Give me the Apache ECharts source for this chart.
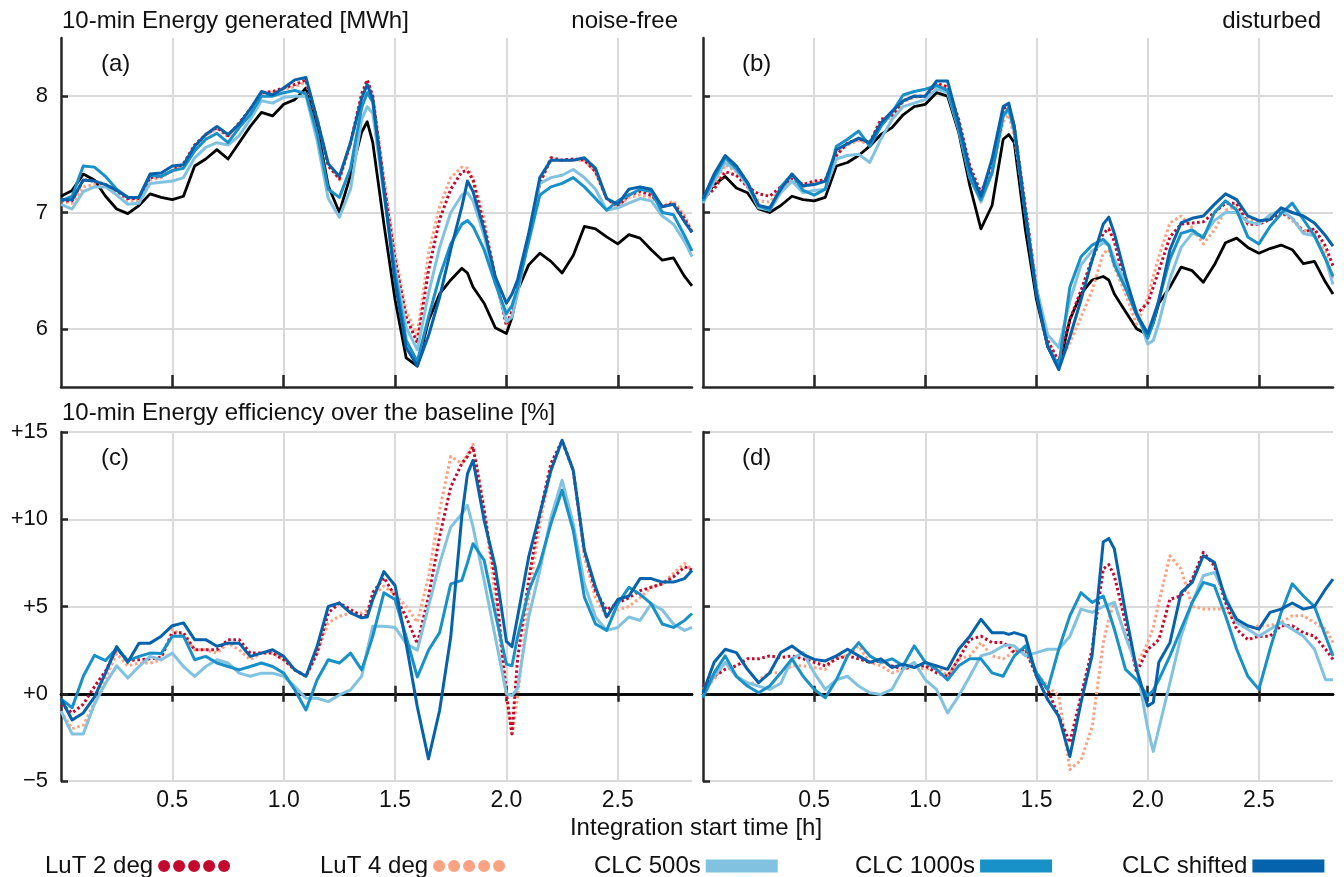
<!DOCTYPE html>
<html>
<head>
<meta charset="utf-8">
<script src="https://cdn.jsdelivr.net/npm/echarts@6/dist/echarts.min.js"></script>
<style>
html,body{margin:0;padding:0;background:#fff;}
#chart{width:1344px;height:877px;}
</style>
</head>
<body>
<div id="chart"></div>
<script>
// Integration start time [h]
const X = [0,0.05,0.1,0.15,0.2,0.25,0.3,0.35,0.4,0.45,0.5,0.55,0.6,0.65,0.7,0.75,0.8,0.85,0.9,0.95,
  1.0,1.05,1.1,1.15,1.2,1.25,1.3,1.35,1.375,1.4,1.45,1.5,1.55,1.6,1.65,1.7,1.75,1.8,1.825,1.85,
  1.9,1.95,2.0,2.025,2.05,2.1,2.15,2.2,2.25,2.3,2.35,2.4,2.45,2.5,2.55,2.6,2.65,2.7,2.75,2.8,2.8333];

const xTickValues = [0.5, 1.0, 1.5, 2.0, 2.5];
const yTickValuesEnergy = [6, 7, 8];

// (a) 10-min energy generated, noise-free [MWh]
const aBaseline = [7.14,7.19,7.33,7.28,7.14,7.03,6.99,7.06,7.16,7.13,
  7.11,7.14,7.40,7.46,7.54,7.46,7.60,7.74,7.86,7.83,
  7.93,7.97,8.07,7.74,7.23,7.00,7.32,7.69,7.78,7.60,
  6.90,6.25,5.75,5.68,6.07,6.30,6.42,6.52,6.48,6.36,
  6.22,6.01,5.96,6.10,6.33,6.55,6.65,6.58,6.48,6.63,
  6.88,6.86,6.79,6.73,6.81,6.78,6.68,6.59,6.61,6.45,6.37];
const aLuT2 = [7.10,7.10,7.28,7.27,7.24,7.19,7.12,7.12,7.30,7.31,
  7.36,7.42,7.58,7.67,7.73,7.66,7.77,7.89,8.03,8.04,
  8.07,8.10,8.14,7.80,7.40,7.29,7.60,8.02,8.14,8.00,
  7.25,6.60,6.10,5.88,6.50,6.94,7.20,7.35,7.36,7.28,
  6.88,6.45,6.03,6.15,6.36,6.78,7.25,7.47,7.45,7.46,
  7.45,7.35,7.12,7.05,7.15,7.18,7.15,7.05,7.08,6.95,6.83];
const aLuT4 = [7.10,7.08,7.22,7.24,7.22,7.17,7.10,7.10,7.28,7.30,
  7.36,7.40,7.56,7.66,7.72,7.65,7.76,7.88,8.02,8.03,
  8.06,8.08,8.12,7.80,7.42,7.28,7.58,8.00,8.12,8.00,
  7.30,6.65,6.15,5.95,6.65,7.05,7.30,7.39,7.38,7.30,
  6.95,6.45,6.03,6.15,6.35,6.80,7.25,7.45,7.45,7.45,
  7.45,7.35,7.12,7.05,7.13,7.15,7.13,7.05,7.10,6.97,6.84];
const aCLC500 = [7.07,7.03,7.18,7.22,7.22,7.15,7.07,7.08,7.25,7.26,
  7.27,7.30,7.47,7.56,7.60,7.58,7.66,7.80,7.96,7.94,
  7.99,8.00,8.00,7.62,7.12,6.96,7.20,7.80,7.91,7.85,
  7.15,6.53,6.01,5.82,6.30,6.70,7.00,7.15,7.17,7.10,
  6.80,6.42,6.06,6.10,6.30,6.78,7.25,7.30,7.32,7.37,
  7.30,7.20,7.02,7.04,7.08,7.12,7.10,6.97,6.90,6.75,6.62];
const aCLC1000 = [7.10,7.14,7.40,7.39,7.31,7.20,7.13,7.13,7.32,7.31,
  7.36,7.38,7.53,7.63,7.68,7.60,7.73,7.84,8.00,8.00,
  8.03,8.05,8.02,7.68,7.20,7.13,7.38,7.90,8.03,7.95,
  7.18,6.48,5.90,5.72,6.10,6.45,6.73,6.90,6.93,6.88,
  6.68,6.39,6.13,6.20,6.35,6.75,7.15,7.22,7.25,7.30,
  7.22,7.12,7.02,7.10,7.15,7.20,7.18,7.00,6.98,6.80,6.67];
const aShifted = [7.11,7.11,7.28,7.27,7.24,7.19,7.13,7.13,7.33,7.34,
  7.40,7.41,7.57,7.67,7.74,7.67,7.76,7.89,8.04,8.01,
  8.07,8.14,8.16,7.80,7.42,7.31,7.60,7.98,8.10,7.97,
  7.20,6.40,5.84,5.68,5.94,6.27,6.68,7.05,7.27,7.18,
  6.85,6.45,6.22,6.30,6.42,6.82,7.30,7.45,7.45,7.45,
  7.47,7.38,7.12,7.07,7.20,7.22,7.20,7.05,7.07,6.92,6.83];

// (b) 10-min energy generated, disturbed [MWh]
const bBaseline = [7.11,7.24,7.31,7.21,7.17,7.03,7.00,7.06,7.14,7.11,
  7.10,7.13,7.40,7.43,7.49,7.57,7.67,7.73,7.84,7.91,
  7.93,8.03,8.00,7.69,7.23,6.86,7.06,7.63,7.67,7.60,
  6.85,6.25,5.85,5.66,6.08,6.30,6.42,6.45,6.42,6.30,
  6.15,6.00,5.95,6.05,6.22,6.36,6.53,6.50,6.40,6.55,
  6.74,6.78,6.70,6.65,6.69,6.72,6.68,6.56,6.58,6.40,6.30];
const bLuT2 = [7.12,7.20,7.35,7.32,7.22,7.16,7.14,7.22,7.29,7.24,
  7.27,7.28,7.49,7.60,7.63,7.60,7.80,7.83,7.96,8.00,
  8.00,8.11,8.08,7.80,7.40,7.17,7.40,7.89,7.92,7.74,
  7.05,6.35,5.90,5.72,6.08,6.33,6.60,6.82,6.86,6.75,
  6.36,6.13,6.22,6.36,6.50,6.79,6.90,6.91,6.92,7.00,
  7.08,7.08,6.90,6.90,6.94,7.00,6.95,6.83,6.86,6.71,6.54];
const bLuT4 = [7.12,7.22,7.41,7.35,7.22,7.10,7.09,7.20,7.28,7.22,
  7.25,7.27,7.50,7.58,7.62,7.58,7.78,7.82,7.95,7.99,
  8.00,8.10,8.06,7.78,7.38,7.09,7.35,7.78,7.84,7.65,
  7.02,6.35,5.90,5.70,5.88,6.10,6.33,6.65,6.68,6.53,
  6.30,6.04,6.27,6.45,6.62,6.91,6.97,6.87,6.73,6.85,
  7.02,7.05,6.95,6.91,6.96,7.00,6.93,6.85,6.82,6.65,6.42];
const bCLC500 = [7.08,7.27,7.43,7.36,7.23,7.04,7.02,7.17,7.27,7.17,
  7.19,7.20,7.46,7.49,7.50,7.43,7.63,7.80,7.91,7.94,
  7.97,8.06,8.03,7.71,7.30,7.09,7.34,7.83,7.87,7.72,
  7.00,6.35,5.95,5.84,6.24,6.55,6.67,6.74,6.72,6.60,
  6.40,6.15,5.87,5.90,6.05,6.43,6.70,6.82,6.80,6.93,
  7.00,7.00,6.92,6.90,6.98,7.02,6.95,6.82,6.80,6.60,6.38];
const bCLC1000 = [7.10,7.30,7.47,7.38,7.25,7.06,7.02,7.22,7.33,7.19,
  7.15,7.20,7.57,7.63,7.70,7.57,7.74,7.86,8.01,8.04,
  8.06,8.09,8.05,7.72,7.30,7.11,7.34,7.83,7.90,7.70,
  6.98,6.30,5.85,5.68,6.36,6.62,6.72,6.77,6.72,6.55,
  6.35,6.12,5.92,6.05,6.25,6.60,6.82,6.85,6.78,7.00,
  7.10,7.02,6.79,6.73,6.88,6.99,7.08,6.94,6.80,6.60,6.45];
const bShifted = [7.12,7.33,7.49,7.40,7.26,7.06,7.04,7.20,7.33,7.23,
  7.24,7.27,7.54,7.59,7.64,7.60,7.77,7.87,7.96,8.00,
  8.00,8.13,8.13,7.77,7.37,7.14,7.46,7.91,7.94,7.74,
  7.00,6.30,5.85,5.65,5.93,6.25,6.59,6.90,6.96,6.82,
  6.45,6.13,5.96,6.10,6.24,6.68,6.91,6.95,6.97,7.07,
  7.16,7.11,6.97,6.93,6.94,7.04,7.00,6.97,6.91,6.80,6.71];

// (c) efficiency over the baseline, noise-free [%]
const cLuT2 = [-0.6,-1.1,-0.6,0.4,1.3,2.6,1.9,1.95,2.0,2.1,
  3.48,3.5,2.52,2.52,2.52,3.1,3.1,2.33,2.33,2.33,
  1.95,1.37,1.0,2.33,4.63,5.2,4.83,4.44,4.5,5.8,
  6.65,5.6,4.4,2.87,5.54,9.0,11.85,13.2,13.6,14.15,
  10.5,6.5,0.0,-2.3,2.0,6.5,10.3,13.2,14.5,12.8,
  8.2,5.9,4.8,5.2,5.5,5.9,6.1,6.3,6.7,7.27,7.1];
const cLuT4 = [-1.0,-2.0,-1.8,-0.5,0.9,2.3,1.6,1.76,1.76,1.95,
  3.68,3.3,2.52,2.52,2.33,2.9,2.52,1.95,2.33,2.33,
  1.95,1.37,1.0,2.33,4.06,4.44,4.63,4.63,4.8,5.6,
  6.17,5.7,5.0,4.1,6.7,10.5,13.6,13.2,13.7,14.3,
  10.7,5.5,-0.2,-2.4,-0.2,5.5,9.75,12.8,14.5,12.8,
  7.84,5.5,4.4,4.8,5.0,5.5,6.1,6.3,6.9,7.46,7.1];
const cCLC500 = [-1.0,-2.3,-2.3,-0.6,0.6,1.6,0.9,1.56,2.14,1.95,
  2.33,1.56,0.99,1.56,1.95,1.76,1.18,1.0,1.18,1.18,
  1.0,0.41,-0.26,-0.26,-0.45,-0.07,0.22,1.0,2.5,3.87,
  3.87,3.8,2.87,2.5,5.0,7.46,9.56,10.3,10.8,9.56,
  6.5,3.25,0.0,-0.1,0.3,4.4,7.07,10.1,12.24,9.75,
  6.3,4.4,3.63,3.8,4.4,4.2,5.16,4.8,4.0,3.63,3.8];
const cCLC1000 = [-0.3,-0.8,1.0,2.2,1.9,2.6,1.9,2.14,2.33,2.3,
  3.3,3.3,1.95,2.14,1.76,1.56,1.37,1.56,1.76,1.56,
  1.18,0.22,-0.93,0.8,1.95,1.76,2.33,1.37,2.3,3.3,
  5.79,5.4,3.25,0.96,2.49,3.5,6.3,6.5,7.5,8.6,
  7.65,4.6,1.7,1.6,3.25,5.9,7.46,9.75,11.66,9.37,
  5.54,4.0,3.63,5.16,6.1,5.7,5.16,4.0,3.8,4.2,4.6];
const cShifted = [-0.3,-1.5,-1.1,-0.2,1.2,2.7,1.8,2.9,2.9,3.3,
  3.9,4.06,3.1,3.1,2.72,2.9,2.9,2.14,2.33,2.52,
  2.14,1.37,1.0,2.72,5.0,5.2,4.63,4.35,4.4,5.4,
  7.0,6.2,2.87,-0.76,-3.73,-0.96,3.25,10.2,12.6,13.38,
  9.94,7.27,3.0,2.7,4.4,7.84,10.32,12.8,14.53,12.8,
  8.22,6.12,4.4,5.4,5.6,6.6,6.6,6.4,6.4,6.6,7.07];

// (d) efficiency over the baseline, disturbed [%]
const dLuT2 = [0.44,1.0,1.4,1.6,2.0,2.0,2.17,2.07,2.17,2.0,
  1.8,1.6,2.0,2.17,2.0,1.8,1.88,1.6,1.4,1.6,
  1.6,1.2,1.0,2.0,3.1,3.3,2.93,2.93,2.7,2.36,
  2.55,1.0,0.25,-1.3,-2.8,-0.13,2.55,7.15,7.4,6.76,
  4.08,1.2,2.55,2.8,3.1,5.42,5.6,6.57,8.1,7.34,
  5.23,3.7,3.1,3.3,3.3,3.9,3.9,3.5,3.3,2.55,1.97];
const dLuT4 = [0.25,0.8,1.8,1.0,0.44,0.8,1.2,1.2,1.6,1.6,
  1.5,1.4,2.17,2.17,2.74,1.8,1.6,1.2,1.4,1.6,
  1.4,1.6,1.0,2.0,2.17,2.93,2.17,2.0,2.2,2.55,
  2.36,1.2,0.44,-0.13,-4.35,-3.8,-1.9,2.9,4.3,5.23,
  3.3,1.6,2.93,3.8,5.23,7.9,7.15,5.0,4.85,4.85,
  4.85,4.08,3.7,3.9,3.9,4.08,4.47,4.47,4.08,3.7,2.93];
const dCLC500 = [-0.13,1.0,1.8,1.0,0.63,0.44,0.25,0.6,2.0,2.36,
  1.2,0.25,0.8,1.0,0.44,0.06,-0.04,0.25,1.4,1.8,
  0.8,0.25,-1.1,-0.13,1.0,2.17,2.36,2.74,2.8,2.74,
  2.17,2.36,2.55,2.55,3.3,4.85,4.66,5.0,5.1,5.23,
  3.3,1.6,-2.0,-3.3,-2.0,0.63,3.3,5.23,6.76,6.95,
  5.6,4.08,3.7,3.3,3.7,4.08,3.7,3.3,2.55,0.8,0.8];
const dCLC1000 = [-0.23,1.2,2.17,1.0,0.44,0.06,0.44,1.2,2.0,1.0,
  0.25,-0.23,0.8,2.17,2.93,2.17,1.8,2.0,1.6,2.74,
  1.8,1.4,0.8,1.6,2.0,2.0,1.2,1.0,1.6,2.17,
  2.74,1.2,0.25,2.55,4.47,5.8,5.23,5.6,4.7,3.7,
  1.4,0.8,-0.13,0.2,0.8,2.17,3.7,5.23,6.38,6.19,
  4.47,2.55,1.0,0.25,2.55,4.66,6.3,5.6,5.0,3.3,2.17];
const dShifted = [0.06,1.8,2.55,2.36,1.4,0.63,1.2,2.36,2.74,2.26,
  1.97,1.88,2.17,2.55,2.17,1.8,2.0,1.5,1.7,1.5,
  1.8,1.6,1.4,2.55,3.3,4.27,3.5,3.5,3.4,3.5,
  3.3,1.0,-0.33,-1.3,-3.6,-0.5,2.2,8.7,8.9,8.3,
  4.66,1.4,-0.7,-0.5,1.8,2.93,5.8,6.38,7.91,7.53,
  5.42,4.27,3.9,3.7,4.66,4.85,5.2,4.85,5.0,6.0,6.57];

const seriesNames = ['LuT 2 deg', 'LuT 4 deg', 'CLC 500s', 'CLC 1000s', 'CLC shifted'];
const COLORS = {
  base: '#000000',
  'LuT 2 deg': '#c3092e',
  'LuT 4 deg': '#fba283',
  'CLC 500s': '#80c2e0',
  'CLC 1000s': '#1891c9',
  'CLC shifted': '#0562ac'
};
const FONT = 'Liberation Sans, Arial, sans-serif';
const AXIS_COLOR = '#262626';
const GRID_COLOR = '#dadada';

const chart = echarts.init(document.getElementById('chart'), null, {renderer: 'canvas'});

function pairs(ys) { return X.map((x, i) => [x, ys[i]]); }

function lineSeries(name, ys, xi, yi) {
  const dotted = name.indexOf('LuT') === 0;
  const isBase = name === 'baseline';
  return {
    type: 'line', name: name, xAxisIndex: xi, yAxisIndex: yi,
    data: pairs(ys), showSymbol: false, symbol: 'none', animation: false, silent: true,
    color: isBase ? COLORS.base : COLORS[name],
    lineStyle: {
      color: isBase ? COLORS.base : COLORS[name],
      width: isBase ? 2.8 : 3,
      type: dotted ? [2.6, 2.6] : 'solid',
      cap: 'butt', join: 'round'
    }
  };
}

function panelSeries(set, xi, yi) {
  const out = [];
  if (set.base) out.push(lineSeries('baseline', set.base, xi, yi));
  out.push(lineSeries('LuT 4 deg', set.lut4, xi, yi));
  out.push(lineSeries('LuT 2 deg', set.lut2, xi, yi));
  out.push(lineSeries('CLC 500s', set.c500, xi, yi));
  out.push(lineSeries('CLC 1000s', set.c1000, xi, yi));
  out.push(lineSeries('CLC shifted', set.shift, xi, yi));
  return out;
}

const grids = [
  {left: 61, top: 38, width: 631, height: 349},
  {left: 703, top: 38, width: 630, height: 349},
  {left: 61, top: 432, width: 631, height: 349},
  {left: 703, top: 432, width: 630, height: 349}
];

function xAxisTop(gi) {
  return {
    type: 'value', gridIndex: gi, min: 0, max: 2.8333, position: 'bottom',
    axisLine: {show: true, onZero: false, lineStyle: {color: AXIS_COLOR, width: 2.5}},
    axisTick: {show: true, inside: true, length: 12, customValues: xTickValues, lineStyle: {color: AXIS_COLOR, width: 2.5}},
    axisLabel: {show: false, customValues: xTickValues},
    splitLine: {show: true, lineStyle: {color: GRID_COLOR, width: 2}}
  };
}
function xAxisBottomLabels(gi) {
  return {
    type: 'value', gridIndex: gi, min: 0, max: 2.8333, position: 'bottom',
    axisLine: {show: false, onZero: false},
    axisTick: {show: false, customValues: xTickValues},
    axisLabel: {show: true, customValues: xTickValues, margin: 8, color: '#111', fontSize: 23, fontFamily: FONT,
      formatter: v => v.toFixed(1)},
    splitLine: {show: true, lineStyle: {color: GRID_COLOR, width: 2}}
  };
}
function xAxisZero(gi, yi, inside) {
  return {
    type: 'value', gridIndex: gi, min: 0, max: 2.8333, position: 'bottom',
    axisLine: {show: true, onZero: true, onZeroAxisIndex: yi, lineStyle: {color: '#000', width: 2.5}},
    axisTick: {show: true, inside: inside, length: 8, customValues: xTickValues, lineStyle: {color: AXIS_COLOR, width: 2.5}},
    axisLabel: {show: false},
    splitLine: {show: false}
  };
}
function yAxisEnergy(gi, labels) {
  return {
    type: 'value', gridIndex: gi, min: 5.5, max: 8.5,
    axisLine: {show: true, onZero: false, lineStyle: {color: AXIS_COLOR, width: 2.5}},
    axisTick: {show: true, inside: true, length: 7, customValues: yTickValuesEnergy, lineStyle: {color: AXIS_COLOR, width: 2.5}},
    axisLabel: {show: labels, customValues: yTickValuesEnergy, margin: 13, color: '#111', fontSize: 22, fontFamily: FONT},
    splitLine: {show: true, lineStyle: {color: GRID_COLOR, width: 2}}
  };
}
function yAxisEff(gi, labels) {
  return {
    type: 'value', gridIndex: gi, min: -5, max: 15, interval: 5,
    axisLine: {show: true, onZero: false, lineStyle: {color: AXIS_COLOR, width: 2.5}},
    axisTick: {show: true, inside: true, length: 7, lineStyle: {color: AXIS_COLOR, width: 2.5}},
    axisLabel: {show: labels, margin: 13, color: '#111', fontSize: 22, fontFamily: FONT,
      formatter: v => v > 0 ? '+' + v : (v < 0 ? '\u2212' + Math.abs(v) : '+0')},
    splitLine: {show: true, lineStyle: {color: GRID_COLOR, width: 2}}
  };
}

const dotsIcon = 'path://M0,6a6,6 0 1,0 12,0a6,6 0 1,0 -12,0M15,6a6,6 0 1,0 12,0a6,6 0 1,0 -12,0M30,6a6,6 0 1,0 12,0a6,6 0 1,0 -12,0M45,6a6,6 0 1,0 12,0a6,6 0 1,0 -12,0M60,6a6,6 0 1,0 12,0a6,6 0 1,0 -12,0';
const legendLefts = [40, 315, 589, 850, 1117];
const legends = seriesNames.map((n, i) => ({
  left: legendLefts[i], top: 849, orient: 'horizontal', align: 'right',
  itemWidth: 72, itemHeight: 13, selectedMode: false,
  textStyle: {fontSize: 24, fontFamily: FONT, color: '#111'},
  data: [{name: n, icon: n.indexOf('LuT') === 0 ? dotsIcon : 'rect',
    itemStyle: {color: COLORS[n], borderWidth: 0}}]
}));

function txt(t, x, y, align, size) {
  return {type: 'text', x: x, y: y, silent: true,
    style: {text: t, fill: '#111', font: (size || 24) + 'px ' + FONT, align: align || 'left', verticalAlign: 'middle'}};
}

const option = {
  backgroundColor: '#fff',
  animation: false,
  grid: grids,
  xAxis: [xAxisTop(0), xAxisTop(1), xAxisBottomLabels(2), xAxisBottomLabels(3),
    xAxisZero(2, 2, true), xAxisZero(2, 2, false), xAxisZero(3, 3, true), xAxisZero(3, 3, false)],
  yAxis: [yAxisEnergy(0, true), yAxisEnergy(1, false), yAxisEff(2, true), yAxisEff(3, false)],
  legend: legends,
  series: [].concat(
    panelSeries({base: aBaseline, lut2: aLuT2, lut4: aLuT4, c500: aCLC500, c1000: aCLC1000, shift: aShifted}, 0, 0),
    panelSeries({base: bBaseline, lut2: bLuT2, lut4: bLuT4, c500: bCLC500, c1000: bCLC1000, shift: bShifted}, 1, 1),
    panelSeries({lut2: cLuT2, lut4: cLuT4, c500: cCLC500, c1000: cCLC1000, shift: cShifted}, 2, 2),
    panelSeries({lut2: dLuT2, lut4: dLuT4, c500: dCLC500, c1000: dCLC1000, shift: dShifted}, 3, 3)
  ),
  graphic: [
    txt('10-min Energy generated [MWh]', 62, 21),
    txt('noise-free', 678, 21, 'right'),
    txt('disturbed', 1321, 21, 'right'),
    txt('(a)', 101, 64),
    txt('(b)', 742, 64),
    txt('10-min Energy efficiency over the baseline [%]', 62, 413),
    txt('(c)', 101, 458),
    txt('(d)', 742, 458),
    txt('Integration start time [h]', 696, 828, 'center')
  ]
};
chart.setOption(option);
</script>
</body>
</html>
